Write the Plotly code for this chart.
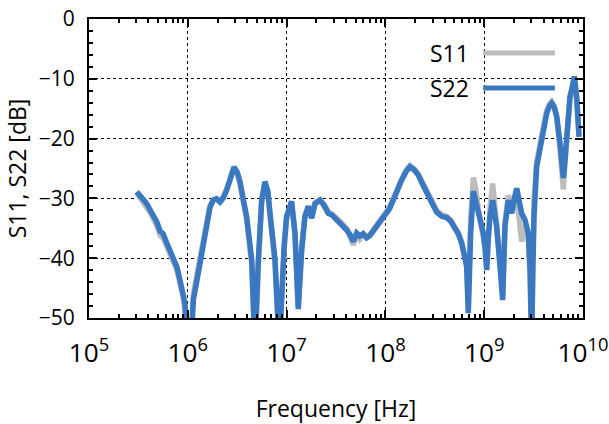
import plotly.graph_objects as go

# log10 of frequency [Hz]
log_freq = [5.483, 5.52, 5.55, 5.584, 5.62, 5.65, 5.685, 5.72, 5.75, 5.786, 5.82, 5.853, 5.89, 5.92, 5.95,
            5.97, 5.99, 6.02, 6.04, 6.056, 6.10, 6.14, 6.19, 6.225, 6.258, 6.29, 6.326, 6.36, 6.394, 6.43,
            6.468, 6.50, 6.528, 6.56, 6.596, 6.647, 6.68, 6.714, 6.748, 6.781, 6.81, 6.832, 6.883, 6.926,
            6.95, 6.975, 7.0, 7.05, 7.085, 7.118, 7.153, 7.186, 7.22, 7.254, 7.287, 7.338, 7.38, 7.422,
            7.46, 7.507, 7.55, 7.608, 7.64, 7.675, 7.709, 7.74, 7.776, 7.81, 7.844, 7.88, 7.912, 7.95,
            7.996, 8.04, 8.08, 8.12, 8.165, 8.21, 8.249, 8.29, 8.333, 8.375, 8.418, 8.47, 8.519, 8.57,
            8.62, 8.66, 8.704, 8.74, 8.772, 8.80, 8.823, 8.839, 8.852, 8.863, 8.89, 8.915, 8.94, 8.965,
            8.991, 9.01, 9.025, 9.04, 9.059, 9.086, 9.105, 9.126, 9.16, 9.187, 9.20, 9.21, 9.244, 9.278,
            9.30, 9.329, 9.355, 9.379, 9.413, 9.446, 9.465, 9.48, 9.492, 9.504, 9.531, 9.555, 9.582,
            9.61, 9.632, 9.66, 9.683, 9.71, 9.734, 9.767, 9.785, 9.801, 9.818, 9.835, 9.868, 9.89,
            9.912, 9.936, 9.96]

s22_db = [-28.9, -29.8, -30.2, -30.9, -32.0, -33.0, -33.9, -35.5, -35.9, -37.4, -38.8, -40.3, -41.5, -43.6, -45.5,
          -47.5, -52.0, -55.0, -52.0, -47.0, -43.0, -39.2, -33.6, -31.5, -30.3, -30.1, -30.6, -29.9, -28.6, -26.5,
          -24.8, -25.6, -27.2, -30.0, -33.1, -40.3, -55.0, -40.3, -30.3, -27.2, -28.8, -32.5, -40.3, -55.0,
          -44.0, -38.0, -33.0, -30.5, -35.8, -48.5, -38.6, -33.0, -31.4, -33.3, -30.9, -30.3, -31.2, -32.5,
          -32.8, -33.5, -34.2, -35.3, -36.0, -37.2, -35.8, -36.3, -35.9, -36.6, -36.2, -35.4, -34.7, -34.0,
          -33.0, -31.8, -30.3, -28.6, -26.9, -25.5, -24.7, -25.2, -26.1, -27.6, -29.1, -30.8, -32.3, -33.0,
          -33.2, -33.8, -34.8, -36.0, -37.5, -39.5, -41.4, -49.2, -42.0, -35.8, -28.8, -30.5, -32.5, -34.0,
          -35.8, -38.5, -42.0, -37.0, -33.0, -30.3, -32.0, -34.7, -41.4, -47.0, -40.0, -34.7, -30.3, -32.5,
          -30.5, -28.3, -30.5, -32.5, -33.6, -35.8, -42.0, -55.0, -42.0, -33.0, -24.7, -22.0, -20.2,
          -17.8, -15.8, -14.6, -14.1, -14.8, -16.3, -20.8, -24.0, -26.6, -23.5, -20.2, -13.0, -11.5,
          -9.6, -13.0, -19.7]

s11_db = [-29.1, -30.0, -30.6, -31.2, -32.4, -33.4, -34.5, -36.2, -36.6, -38.0, -39.3, -40.8, -42.0, -44.2, -46.2,
          -48.5, -53.0, -55.0, -51.0, -46.0, -42.0, -38.5, -33.2, -31.2, -30.2, -30.0, -30.4, -29.7, -28.4, -26.4,
          -24.7, -25.8, -27.5, -30.4, -33.6, -41.0, -55.0, -41.0, -30.6, -27.4, -29.2, -33.0, -41.0, -55.0,
          -45.0, -38.5, -33.4, -30.7, -36.2, -48.0, -38.0, -32.8, -31.2, -33.0, -30.7, -30.2, -31.0, -32.2,
          -32.6, -33.2, -34.0, -35.0, -36.2, -37.8, -36.0, -36.8, -36.0, -36.4, -36.0, -35.2, -34.4, -33.7,
          -32.8, -31.5, -30.0, -28.4, -26.6, -25.2, -24.5, -25.0, -25.9, -27.3, -28.8, -30.5, -32.0, -32.7,
          -33.0, -33.6, -34.6, -35.8, -37.3, -39.2, -41.0, -48.0, -40.5, -33.5, -26.5, -28.5, -31.8, -33.8,
          -35.6, -38.2, -41.5, -36.0, -31.5, -27.5, -30.5, -33.8, -40.5, -46.0, -39.0, -34.0, -29.5, -31.0,
          -30.0, -30.5, -33.5, -37.2, -34.5, -36.5, -43.0, -55.0, -41.0, -30.5, -23.8, -21.2, -19.5,
          -17.2, -15.3, -14.2, -13.8, -14.6, -16.5, -21.5, -25.5, -28.5, -24.0, -20.5, -13.4, -11.8,
          -10.0, -13.5, -19.5]

series_names = ["S11", "S22"]
series_colors = ["#bdbdbd", "#3a78c1"]

freq = [10 ** v for v in log_freq]

fig = go.Figure()
for name, ys, col in zip(series_names, [s11_db, s22_db], series_colors):
    fig.add_trace(go.Scatter(x=freq, y=ys, mode="lines", name=name,
                             line=dict(color=col, width=5.5), showlegend=False,
                             cliponaxis=True))

FONT = "Open Sans"

axis_common = dict(
    showline=True, linecolor="black", linewidth=2, mirror="allticks",
    ticks="inside", ticklen=8, tickwidth=1.5, tickcolor="black",
    showgrid=True, gridcolor="black", gridwidth=1, griddash="dot",
    zeroline=False, automargin=False,
    tickfont=dict(family=FONT, size=21, color="black"),
)

fig.update_xaxes(type="log", range=[5, 10], dtick=1, exponentformat="power",
                 ticklabelstandoff=12,
                 minor=dict(ticks="inside", ticklen=4, tickcolor="black", tickwidth=1.5, dtick="D1", showgrid=False),
                 title=dict(text="Frequency [Hz]", font=dict(family=FONT, size=23, color="black"), standoff=32),
                 **axis_common)
fig.update_yaxes(range=[-50, 0], dtick=10, ticklabelstandoff=8,
                 minor=dict(ticks="inside", ticklen=4, tickcolor="black", tickwidth=1.5, dtick=2, showgrid=False),
                 title=dict(text="S11, S22 [dB]", font=dict(family=FONT, size=23, color="black"), standoff=6),
                 **axis_common)

# legend (text on the left, sample line on the right, like gnuplot)
shapes = [dict(type="rect", xref="paper", yref="paper", x0=0.69, x1=0.955, y0=0.70, y1=0.94,
               fillcolor="white", line=dict(width=0), layer="between")]
annotations = []
leg_y = [0.886, 0.769]
for name, col, yy in zip(series_names, series_colors, leg_y):
    annotations.append(dict(xref="paper", yref="paper", x=0.774, y=yy, text=name, showarrow=False,
                            xanchor="right", yanchor="middle",
                            font=dict(family=FONT, size=23, color="black")))
    shapes.append(dict(type="line", xref="paper", yref="paper", x0=0.798, x1=0.943, y0=yy, y1=yy,
                       line=dict(color=col, width=5), layer="above"))

fig.update_layout(
    width=609, height=424,
    margin=dict(l=89, r=26, t=19, b=106),
    paper_bgcolor="white", plot_bgcolor="white",
    shapes=shapes, annotations=annotations,
    font=dict(family=FONT, color="black"),
)

fig.write_html("out.html")
